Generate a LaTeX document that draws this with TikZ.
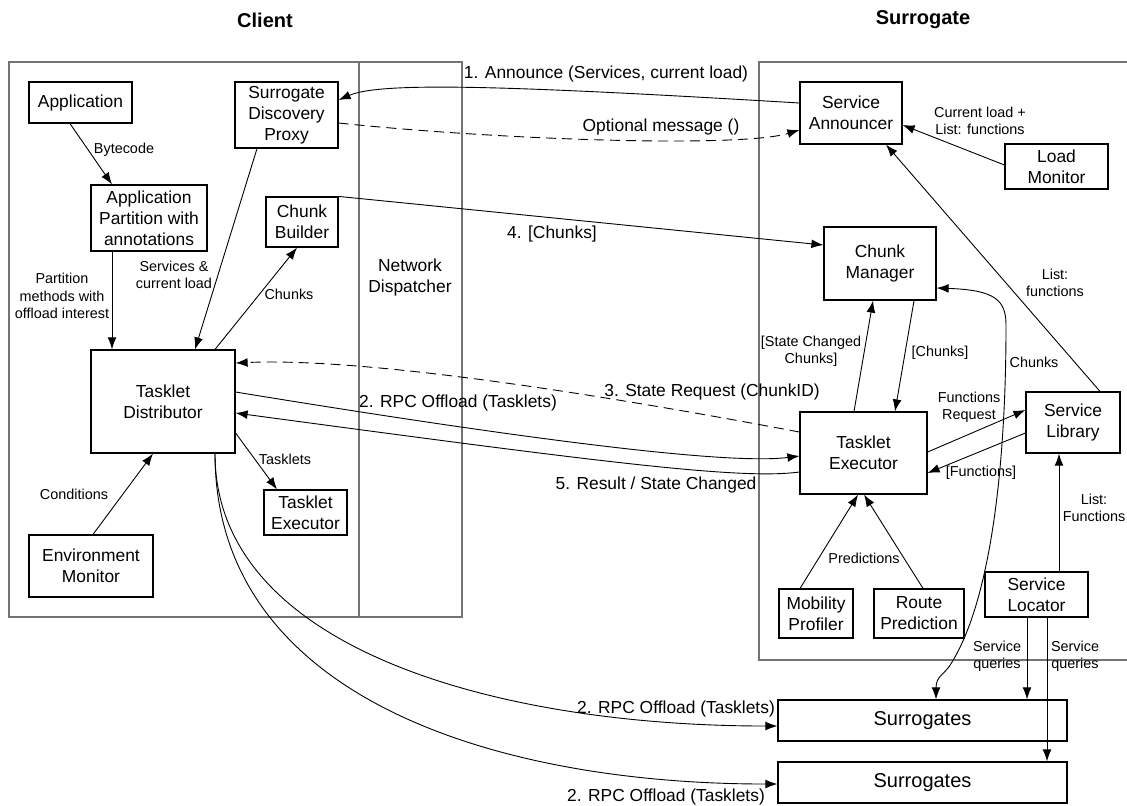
\documentclass[tikz,border=0pt]{standalone}
\usepackage{fontspec}
\setmainfont{Liberation Sans}
\usetikzlibrary{arrows.meta}
\newcommand\mybig{\fontsize{8.7}{10.5}\selectfont}
\newcommand\mysmall{\fontsize{7.2}{8.6}\selectfont}
\newcommand\mytitle{\fontsize{10}{12}\selectfont\bfseries}
\newcommand\mysur{\fontsize{10}{12}\selectfont}
\begin{document}
\begin{tikzpicture}[x=0.5pt,y=-0.5pt,
  bx/.style={draw,line width=0.6pt,align=center,inner sep=0pt,font=\mybig},
  frm/.style={draw=black!55,line width=1pt},
  lbl/.style={inner sep=0pt,align=center,font=\mysmall},
  mlbl/.style={inner sep=0pt,align=center,font=\mybig},
  con/.style={line width=0.45pt,-{Latex[length=6pt,width=4.4pt]}},
  dbl/.style={line width=0.45pt,{Latex[length=6pt,width=4.4pt]}-{Latex[length=6pt,width=4.4pt]}},
  dsh/.style={con,dash pattern=on 5pt off 3pt},
]
\useasboundingbox (0,0) rectangle (1127,805);

% titles
\node[font=\mytitle,inner sep=0pt] (tclient) at (265,20) {Client};
\node[font=\mytitle,inner sep=0pt] (tsurr) at (923,20) {Surrogate};

% frames
\node[frm,minimum width=175pt,minimum height=277.5pt,inner sep=0pt] (client) at (184,339.5) {};
\node[frm,minimum width=51.5pt,minimum height=277.5pt,inner sep=0pt] (nd) at (410.5,339.5) {};
\node[mlbl] (ndl) at (410,277) {Network\\Dispatcher};
\draw[frm] (1127,62) -- (759,62) -- (759,660) -- (1127,660);

% client boxes
\node[bx,minimum width=51.5pt,minimum height=20.5pt] (app) at (80.5,102.5) {Application};
\node[bx,minimum width=51.5pt,minimum height=33pt] (sdp) at (286.5,115) {Surrogate\\Discovery\\Proxy};
\node[bx,minimum width=58pt,minimum height=33pt] (apart) at (149,218) {Application\\Partition with\\annotations};
\node[bx,minimum width=36pt,minimum height=25pt] (cb) at (302,222) {Chunk\\Builder};
\node[bx,minimum width=72pt,minimum height=51.5pt] (td) at (163,401.5) {Tasklet\\Distributor};
\node[bx,minimum width=62pt,minimum height=31pt] (em) at (91,566) {Environment\\Monitor};
\node[bx,minimum width=41.5pt,minimum height=22.5pt] (cte) at (305.5,512.5) {Tasklet\\Executor};

% surrogate boxes
\node[bx,minimum width=51pt,minimum height=31pt] (sa) at (851,113) {Service\\Announcer};
\node[bx,minimum width=51.5pt,minimum height=22.5pt] (lm) at (1056.5,166.5) {Load\\Monitor};
\node[bx,minimum width=56pt,minimum height=36.5pt] (cm) at (880,263.5) {Chunk\\Manager};
\node[bx,minimum width=63.5pt,minimum height=41pt] (ste) at (863.5,453) {Tasklet\\Executor};
\node[bx,minimum width=47pt,minimum height=30.5pt] (sl) at (1073,422.5) {Service\\Library};
\node[bx,minimum width=37pt,minimum height=24.5pt] (mp) at (816,613.5) {Mobility\\Profiler};
\node[bx,minimum width=45pt,minimum height=24.5pt] (rp) at (919,613.5) {Route\\Prediction};
\node[bx,minimum width=51.5pt,minimum height=22.5pt] (slo) at (1036.5,594.5) {Service\\Locator};
\node[bx,font=\mysur,minimum width=144.5pt,minimum height=20.5pt] (sur1) at (922.5,720.5) {Surrogates};
\node[bx,font=\mysur,minimum width=144.5pt,minimum height=20.5pt] (sur2) at (922.5,782.5) {Surrogates};

% client connectors
\draw[con] ([shift={(-10.5,0)}]app.south) -- ([shift={(-37,0)}]apart.north);
\draw[con] ([shift={(-37,0)}]apart.south) -- ([shift={(-51,0)}]td.north);
\draw[con] ([shift={(-29.5,0)}]sdp.south) -- ([shift={(32,0)}]td.north);
\draw[con] ([shift={(52,0)}]td.north) -- ([shift={(-5,0)}]cb.south);
\draw[con] ([shift={(2,0)}]em.north) -- ([shift={(-10,0)}]td.south);
\draw[con] ([shift={(0,31.5)}]td.east) -- ([shift={(-28.5,0)}]cte.north);
\draw[con] ([shift={(52,0)}]td.south) .. controls (215,650) and (500,726) .. ([shift={(0,5.5)}]sur1.west);
\draw[con] ([shift={(52,0)}]td.south) .. controls (215,700) and (500,784) .. ([shift={(0,1.5)}]sur2.west);

% cross connectors
\draw[con] ([shift={(0,-10)}]sa.west) .. controls (500,85) and (380,82) .. ([shift={(0,-15)}]sdp.east);
\draw[dsh] ([shift={(0,8)}]sdp.east) .. controls (500,140) and (740,148) .. ([shift={(0,17)}]sa.west);
\draw[con] (cb.north east) -- ([shift={(0,-18.5)}]cm.west);
\draw[dsh] ([shift={(0,-21)}]ste.west) .. controls (550,385) and (350,358) .. ([shift={(0,-38.5)}]td.east);
\draw[con] ([shift={(0,-9.5)}]td.east) .. controls (480,432) and (720,466) .. ([shift={(0,3)}]ste.west);
\draw[con] ([shift={(0,19)}]ste.west) .. controls (740,480) and (600,462) .. ([shift={(0,11.5)}]td.east);

% surrogate connectors
\draw[con] ([shift={(-9.5,0)}]ste.north) -- ([shift={(-7,0)}]cm.south);
\draw[con] ([shift={(34,0)}]cm.south) -- ([shift={(31.5,0)}]ste.north);
\draw[con] ([shift={(0,-1)}]ste.east) -- ([shift={(0,-12.5)}]sl.west);
\draw[con] ([shift={(0,10.5)}]sl.west) -- ([shift={(0,20)}]ste.east);
\draw[con] ([shift={(-16,0)}]mp.north) -- ([shift={(-5.5,0)}]ste.south);
\draw[con] ([shift={(4,0)}]rp.north) -- ([shift={(0.5,0)}]ste.south);
\draw[con] ([shift={(0,-1.5)}]lm.west) -- ([shift={(0,12)}]sa.east);
\draw[con] ([shift={(27,0)}]sl.north) -- ([shift={(35,0)}]sa.south);
\draw[con] ([shift={(22.5,0)}]slo.north) -- ([shift={(-14,0)}]sl.south);
\draw[con] ([shift={(-9.5,0)}]slo.south) -- ([shift={(104.5,0)}]sur1.north);
\draw[con] ([shift={(10.5,0)}]slo.south) -- ([shift={(124.5,0)}]sur2.north);
\draw[dbl] ([shift={(0,24.5)}]cm.east) .. controls (995,290) and (1006,300) .. (1006,325)
   .. controls (1006,470) and (990,600) .. (952,662)
   .. controls (945,675) and (936,675) .. (936,688) -- ([shift={(13.5,0)}]sur1.north);

% labels
\node[lbl] (lbyte) at (124,150) {Bytecode};
\node[lbl] (lpart) at (62,296) {Partition\\methods with\\offload interest};
\node[lbl] (lserv) at (174,275) {Services \&\\current load};
\node[lbl] (lchc) at (289,294) {Chunks};
\node[lbl] (lcond) at (74,494) {Conditions};
\node[lbl] (ltask) at (285,459) {Tasklets};
\node[mlbl] (lann) at (606,74) {1. Announce (Services, current load)};
\node[mlbl] (lopt) at (661,127) {Optional message ()};
\node[mlbl] (lch4) at (552,234) {4. [Chunks]};
\node[mlbl] (lrpc) at (458,403) {2. RPC Offload (Tasklets)};
\node[mlbl] (lstate) at (712,392) {3. State Request (ChunkID)};
\node[mlbl] (lres) at (656,485) {5. Result / State Changed};
\node[mlbl] (lrpc1) at (676,709) {2. RPC Offload (Tasklets)};
\node[mlbl] (lrpc2) at (666,797) {2. RPC Offload (Tasklets)};
\node[lbl] (lcur) at (980,121) {Current load +\\List: functions};
\node[lbl] (llist) at (1055,283) {List:\\functions};
\node[lbl] (lscc) at (811,351) {[State Changed\\Chunks]};
\node[lbl] (lchk) at (940,353) {[Chunks]};
\node[lbl] (lchs) at (1034,362) {Chunks};
\node[lbl] (lfreq) at (969,407) {Functions\\Request};
\node[lbl] (lfun) at (981,473) {[Functions]};
\node[lbl] (lpred) at (864,558) {Predictions};
\node[lbl] (llistf) at (1094,508) {List:\\Functions};
\node[lbl] (lsq1) at (997,656) {Service\\queries};
\node[lbl] (lsq2) at (1075,656) {Service\\queries};
\end{tikzpicture}
\end{document}
